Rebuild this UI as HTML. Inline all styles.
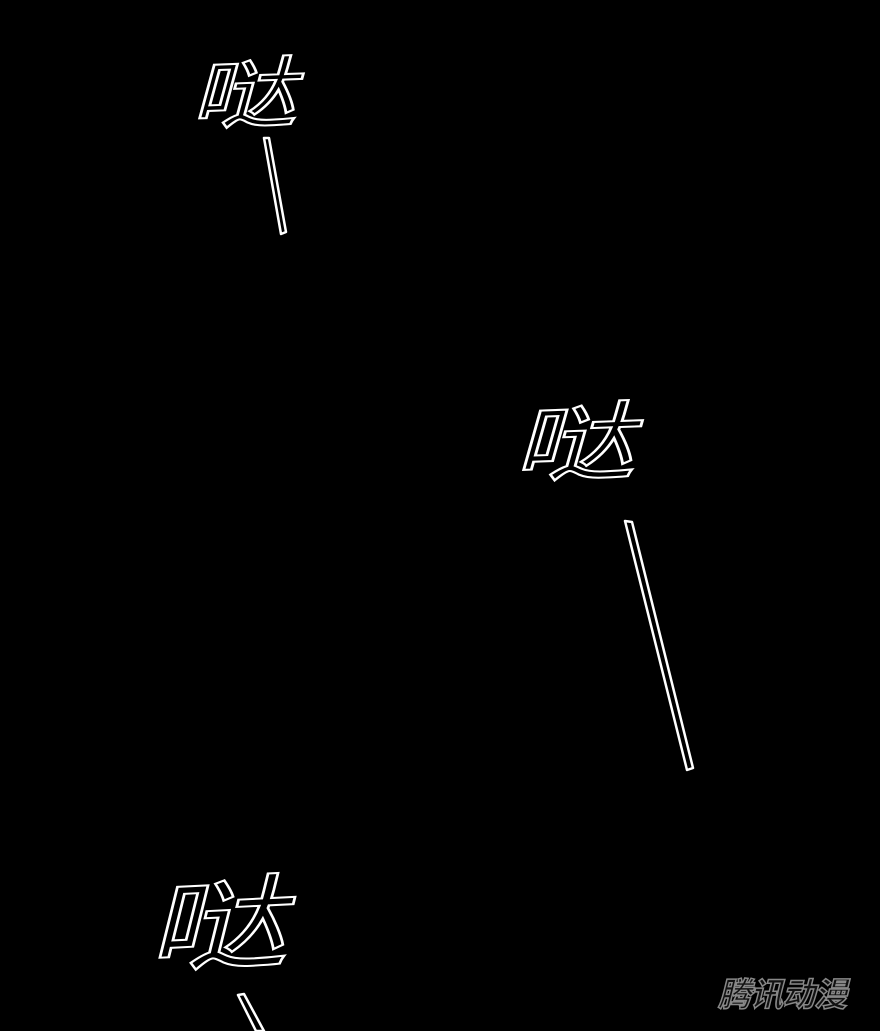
<!DOCTYPE html>
<html><head><meta charset="utf-8"><style>
html,body{margin:0;padding:0;background:#000;width:880px;height:1031px;overflow:hidden;position:relative}
.t{position:absolute;font-family:"Liberation Sans","WenQuanYi Zen Hei","Noto Sans CJK SC",sans-serif;color:#000;-webkit-text-stroke:2px #fff;line-height:1;font-style:italic}
.w{position:absolute;left:718px;top:968px;font-family:"Liberation Sans","Noto Sans CJK SC",sans-serif;font-weight:bold;font-size:33px;color:#111;-webkit-text-stroke:1.5px #888;font-style:italic;letter-spacing:-1px}
svg{position:absolute;left:0;top:0}
</style></head><body>
<div class="t" style="left:186px;top:60px;font-size:76px;transform:scaleX(1.4) rotate(-3deg);transform-origin:left top">哒</div>
<div class="t" style="left:508px;top:404px;font-size:84px;transform:scaleX(1.45) rotate(-3deg);transform-origin:left top">哒</div>
<div class="t" style="left:140px;top:880px;font-size:100px;transform:scaleX(1.4) rotate(-4deg);transform-origin:left top">哒</div>
<svg width="880" height="1031">
<g fill="#000" stroke="#fff" stroke-width="2.5" stroke-linejoin="round">
<polygon points="264,138 269,138 286,232 281,234"/>
<polygon points="625,521 632,522 693,768 687,770"/>
<polygon points="238,995 244,994 264,1031 256,1031"/>
</g>
</svg>
<div class="w">腾讯动漫</div>
</body></html>
